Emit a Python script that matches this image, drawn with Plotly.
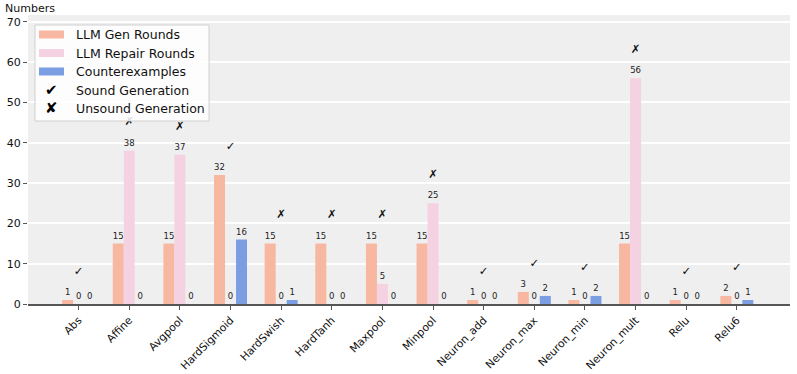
import plotly.graph_objects as go

categories = ["Abs", "Affine", "Avgpool", "HardSigmoid", "HardSwish", "HardTanh", "Maxpool",
              "Minpool", "Neuron_add", "Neuron_max", "Neuron_min", "Neuron_mult", "Relu", "Relu6"]
gen_rounds = [1, 15, 15, 32, 15, 15, 15, 15, 1, 3, 1, 15, 1, 2]
repair_rounds = [0, 38, 37, 0, 0, 0, 5, 25, 0, 0, 0, 56, 0, 0]
counterexamples = [0, 0, 0, 16, 1, 0, 0, 0, 0, 2, 2, 0, 0, 1]
sound = [True, False, False, True, False, False, False, False, True, True, True, False, True, True]

C_GEN = "#f7b7a1"
C_REP = "#f5d2e1"
C_CEX = "#7b9ee2"
FONT = "DejaVu Sans"

W, H = 797, 374
L, R, T, B = 28, 790, 15, 304  # plot area in pixels


def px(x):
    return (x - L) / (R - L)


def py(y):
    return (B - y) / (B - T)


fig = go.Figure()
for name, vals, col in [("LLM Gen Rounds", gen_rounds, C_GEN),
                        ("LLM Repair Rounds", repair_rounds, C_REP),
                        ("Counterexamples", counterexamples, C_CEX)]:
    fig.add_trace(go.Bar(
        x=categories, y=vals, name=name, marker=dict(color=col, line=dict(width=0)),
        text=[str(v) for v in vals], textposition="outside", constraintext="none",
        textfont=dict(size=8.5, color="#222", family=FONT), cliponaxis=False,
        showlegend=False,
    ))

marker_y = [max(a, b, c) + 7 for a, b, c in zip(gen_rounds, repair_rounds, counterexamples)]
fig.add_trace(go.Scatter(
    x=categories, y=marker_y, mode="text",
    text=["✓" if s else "✗" for s in sound],
    textfont=dict(size=11.5, color="#111", family=FONT),
    showlegend=False, cliponaxis=False,
))

shapes = []
annotations = []
# legend box
shapes.append(dict(type="rect", xref="paper", yref="paper",
                   x0=px(35), x1=px(209), y0=py(121), y1=py(25),
                   fillcolor="rgba(255,255,255,0.85)", line=dict(color="#d0d0d0", width=1), layer="above"))
rows = [("LLM Gen Rounds", C_GEN, None), ("LLM Repair Rounds", C_REP, None),
        ("Counterexamples", C_CEX, None), ("Sound Generation", None, "✔"),
        ("Unsound Generation", None, "✘")]
row_y = [34.5, 53, 71.5, 90, 108.5]
for (label, col, glyph), yy in zip(rows, row_y):
    if col:
        shapes.append(dict(type="rect", xref="paper", yref="paper",
                           x0=px(39), x1=px(64), y0=py(yy + 4), y1=py(yy - 4),
                           fillcolor=col, line=dict(width=0), layer="above"))
    else:
        annotations.append(dict(xref="paper", yref="paper", x=px(51.5), y=py(yy), text=glyph,
                                showarrow=False, xanchor="center", yanchor="middle",
                                font=dict(size=15, color="#000", family=FONT)))
    annotations.append(dict(xref="paper", yref="paper", x=px(73.5), y=py(yy), text=label,
                            showarrow=False, xanchor="left", yanchor="middle",
                            font=dict(size=12.5, color="#111", family=FONT)))

annotations.append(dict(xref="paper", yref="paper", x=px(3), y=py(8), text="Numbers",
                        showarrow=False, xanchor="left", yanchor="middle",
                        font=dict(size=11, color="#111", family=FONT)))

fig.update_layout(
    width=W, height=H,
    margin=dict(l=L, r=W - R, t=T, b=H - B, pad=0),
    paper_bgcolor="white", plot_bgcolor="#efefef",
    barmode="group", bargap=0.348, bargroupgap=0,
    font=dict(family=FONT, size=11, color="#111"),
    shapes=shapes, annotations=annotations,
    showlegend=False,
)
fig.update_xaxes(
    type="category", range=[-1.0, 14.05], tickangle=-45,
    showline=True, linecolor="#555", linewidth=1.5,
    ticks="outside", ticklen=4, tickcolor="#555", tickwidth=1,
    showgrid=False, tickfont=dict(size=10.8, family=FONT, color="#111"),
    automargin=False,
)
fig.update_yaxes(
    range=[0, 71.7], tickvals=[0, 10, 20, 30, 40, 50, 60, 70],
    ticks="outside", ticklen=4, tickcolor="#555", tickwidth=1,
    showline=False, showgrid=True, gridcolor="white", gridwidth=1.5, zeroline=False,
    tickfont=dict(size=11, family=FONT, color="#111"),
    automargin=False,
)

fig.write_html("out.html", config={"displayModeBar": False},
               post_script="document.body.style.margin='0';document.body.style.padding='0';")
